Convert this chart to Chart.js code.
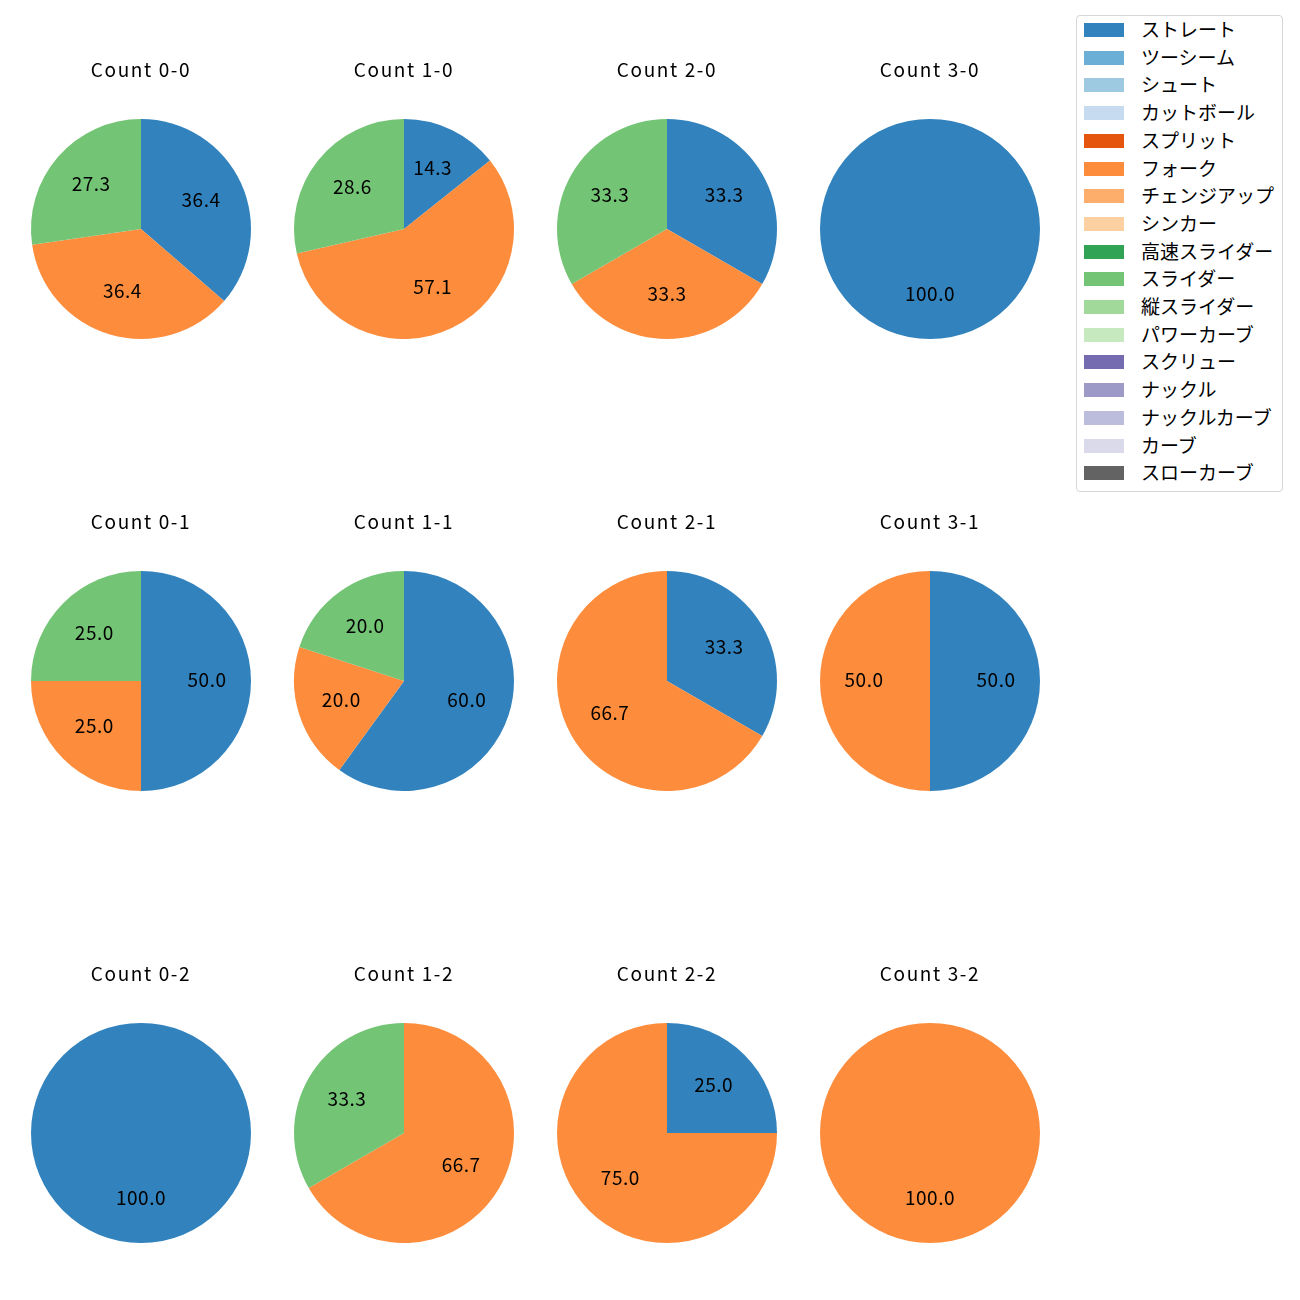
<!DOCTYPE html>
<html>
<head>
<meta charset="utf-8">
<script src="https://cdn.jsdelivr.net/npm/chart.js@4.4.1/dist/chart.umd.min.js"></script>
<style>
  body { margin: 0; background: #fff; }
  #wrap { position: relative; width: 1300px; height: 1300px; }
  .pie { position: absolute; }
  #legend {
    position: absolute; left: 1076px; top: 15px; width: 207px; height: 477px;
    border: 1px solid #d6d6d6; border-radius: 4px; box-sizing: border-box;
    font-family: "Noto Sans CJK JP", "Noto Sans", sans-serif; font-size: 19px; color: #000;
  }
  .item { position: absolute; left: 7px; height: 20px; }
  .sw { position: absolute; left: 0; top: 3px; width: 40px; height: 14px; }
  .lbl { position: absolute; left: 57px; top: -4px; white-space: nowrap; line-height: 26px; }
</style>
</head>
<body>
<div id="wrap"><div id="legend"></div></div>
<script>
  const pitchTypes = ["ストレート", "ツーシーム", "シュート", "カットボール", "スプリット", "フォーク",
    "チェンジアップ", "シンカー", "高速スライダー", "スライダー", "縦スライダー", "パワーカーブ",
    "スクリュー", "ナックル", "ナックルカーブ", "カーブ", "スローカーブ"];
  const pitchColors = ["#3182bd", "#6baed6", "#9ecae1", "#c6dbef", "#e6550d", "#fd8d3c",
    "#fdae6b", "#fdd0a2", "#31a354", "#74c476", "#a1d99b", "#c7e9c0",
    "#756bb1", "#9e9ac8", "#bcbddc", "#dadaeb", "#636363"];

  const countLabels = ["0-0", "1-0", "2-0", "3-0", "0-1", "1-1", "2-1", "3-1", "0-2", "1-2", "2-2", "3-2"];
  // pitches per count: ストレート, フォーク, スライダー
  const straight = [4, 1, 1, 1, 2, 3, 1, 1, 1, 0, 1, 0];
  const fork     = [4, 4, 1, 0, 1, 1, 2, 1, 0, 2, 3, 1];
  const slider   = [3, 2, 1, 0, 1, 1, 0, 0, 0, 1, 0, 0];

  const colCenters = [141, 404, 667, 930];
  const rowTops = [58, 510, 962];
  const fontFamily = "'Noto Sans CJK JP', 'Noto Sans', sans-serif";

  const spacing = {
    id: "spacing",
    beforeDraw(chart) {
      chart.ctx.letterSpacing = "1.6px";
    }
  };

  const pctLabels = {
    id: "pctLabels",
    afterDatasetsDraw(chart) {
      const ctx = chart.ctx;
      const meta = chart.getDatasetMeta(0);
      const data = chart.data.datasets[0].data;
      const total = data.reduce((a, b) => a + b, 0);
      ctx.save();
      ctx.letterSpacing = "0.5px";
      ctx.font = "19px " + fontFamily;
      ctx.fillStyle = "#000";
      ctx.textAlign = "center";
      ctx.textBaseline = "middle";
      meta.data.forEach((arc, i) => {
        if (!data[i]) return;
        const mid = (arc.startAngle + arc.endAngle) / 2;
        const r = arc.outerRadius * 0.6;
        const x = arc.x + Math.cos(mid) * r;
        const y = arc.y + Math.sin(mid) * r - 1.5;
        ctx.fillText((data[i] / total * 100).toFixed(1), x, y);
      });
      ctx.restore();
    }
  };

  const wrap = document.getElementById("wrap");

  countLabels.forEach((label, k) => {
    const canvas = document.createElement("canvas");
    canvas.className = "pie";
    canvas.style.left = (colCenters[k % 4] - 120) + "px";
    canvas.style.top = rowTops[Math.floor(k / 4)] + "px";
    canvas.style.width = "240px";
    canvas.style.height = "281px";
    canvas.width = 240;
    canvas.height = 281;
    wrap.appendChild(canvas);

    const values = pitchTypes.map(() => 0);
    values[0] = straight[k];
    values[5] = fork[k];
    values[9] = slider[k];

    new Chart(canvas, {
      type: "pie",
      data: {
        labels: pitchTypes,
        datasets: [{
          data: values,
          backgroundColor: pitchColors,
          borderWidth: 0,
        }],
      },
      options: {
        responsive: false,
        animation: false,
        devicePixelRatio: 1,
        layout: { padding: 0 },
        plugins: {
          legend: { display: false },
          tooltip: { enabled: false },
          title: {
            display: true,
            text: "Count " + label,
            color: "#000",
            font: { family: fontFamily, size: 19, weight: "normal", lineHeight: 1.2 },
            padding: { top: 0, bottom: 38.2 },
          },
        },
      },
      plugins: [spacing, pctLabels],
    });
  });

  const legend = document.getElementById("legend");
  pitchTypes.forEach((name, i) => {
    const item = document.createElement("div");
    item.className = "item";
    item.style.top = (4 + i * 27.7) + "px";
    item.innerHTML = '<div class="sw" style="background:' + pitchColors[i] + '"></div><div class="lbl">' + name + "</div>";
    legend.appendChild(item);
  });
</script>
</body>
</html>
